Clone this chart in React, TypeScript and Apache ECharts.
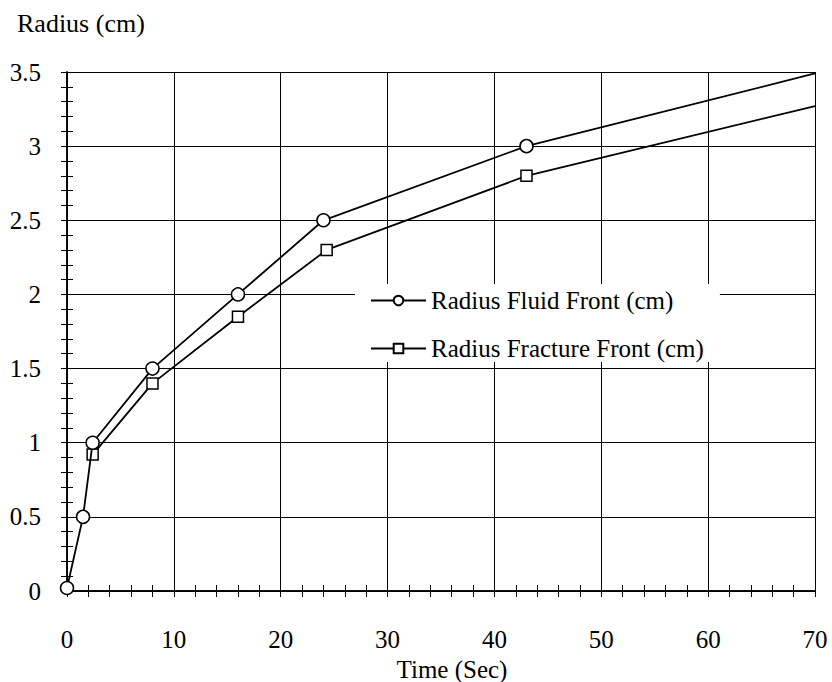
import React, { useEffect, useRef } from "react";
import * as echarts from "echarts";

const FONT = "Liberation Serif";

const xTicks = [0, 10, 20, 30, 40, 50, 60, 70];
const yTicks = [0, 0.5, 1, 1.5, 2, 2.5, 3, 3.5];

const fluidName = "Radius Fluid Front (cm)";
const fluidTime = [0, 1.5, 2.4, 8, 16, 24, 43, 70];
const fluidRadius = [0.02, 0.5, 1.0, 1.5, 2.0, 2.5, 3.0, 3.49];

const fractureName = "Radius Fracture Front (cm)";
const fractureTime = [2.4, 8, 16, 24.3, 43, 70];
const fractureRadius = [0.92, 1.4, 1.85, 2.3, 2.8, 3.27];

function toData(xs: number[], ys: number[]) {
  return xs.map((x, i) => {
    const item: any = { value: [x, ys[i]] };
    if (i === xs.length - 1 && x >= xTicks[xTicks.length - 1]) item.symbol = "none";
    return item;
  });
}

export default function App() {
  const ref = useRef<HTMLDivElement>(null);
  useEffect(() => {
    if (!ref.current) return;
    const chart = echarts.init(ref.current, null, { renderer: "svg" });
    const xMin = xTicks[0];
    const xMax = xTicks[xTicks.length - 1];
    const yMin = yTicks[0];
    const yMax = yTicks[yTicks.length - 1];
    const axisCommon = {
      axisLine: { show: true, lineStyle: { color: "#000", width: 1.5 } },
      axisTick: { show: true, inside: true, length: 6, lineStyle: { color: "#000", width: 1 } },
      minorTick: { show: true, splitNumber: 5, length: 6, lineStyle: { color: "#000", width: 1 } },
    };
    const txt = { fontFamily: FONT, fontSize: 25, fontWeight: "normal" as const, color: "#000" };
    chart.setOption({
      animation: false,
      backgroundColor: "#fff",
      textStyle: { fontFamily: FONT, fontSize: 25, color: "#000" },
      title: {
        text: "Radius (cm)",
        left: 12,
        top: 5,
        textStyle: { ...txt, fontSize: 26 },
      },
      grid: { left: 67, right: 17, top: 72, bottom: 91, containLabel: false, outerBoundsMode: "none" },
      legend: {
        orient: "vertical",
        left: 355,
        top: 284,
        backgroundColor: "#fff",
        padding: [4, 16, 1, 15],
        itemWidth: 55,
        itemHeight: 12,
        itemGap: 23,
        textStyle: txt,
        data: [fluidName, fractureName],
      },
      xAxis: [
        {
          type: "value",
          position: "bottom",
          min: xMin,
          max: xMax,
          interval: 10,
          ...axisCommon,
          axisLabel: { ...txt, margin: 36 },
          splitLine: { show: true, lineStyle: { color: "#000", width: 1 } },
          name: "Time (Sec)",
          nameLocation: "middle",
          nameGap: 51,
          nameTextStyle: { ...txt, padding: [0, 0, 0, 22] },
        },
        {
          type: "value",
          position: "top",
          min: xMin,
          max: xMax,
          interval: 10,
          ...axisCommon,
          axisLabel: { show: false },
          splitLine: { show: false },
        },
      ],
      yAxis: [
        {
          type: "value",
          position: "left",
          min: yMin,
          max: yMax,
          interval: 0.5,
          ...axisCommon,
          axisLabel: { ...txt, margin: 26, padding: [10, 0, 0, 0] },
          splitLine: { show: true, lineStyle: { color: "#000", width: 1 } },
        },
        {
          type: "value",
          position: "right",
          min: yMin,
          max: yMax,
          interval: 0.5,
          ...axisCommon,
          axisLabel: { show: false },
          splitLine: { show: false },
        },
      ],
      series: [
        {
          name: fluidName,
          type: "line",
          xAxisIndex: 0,
          yAxisIndex: 0,
          data: toData(fluidTime, fluidRadius),
          symbol: "circle",
          symbolSize: 13,
          showAllSymbol: true,
          lineStyle: { color: "#000", width: 1.8 },
          itemStyle: { color: "#fff", borderColor: "#000", borderWidth: 1.5 },
          z: 3,
        },
        {
          name: fractureName,
          type: "line",
          xAxisIndex: 0,
          yAxisIndex: 0,
          data: toData(fractureTime, fractureRadius),
          symbol: "rect",
          symbolSize: 11,
          showAllSymbol: true,
          lineStyle: { color: "#000", width: 1.8 },
          itemStyle: { color: "#fff", borderColor: "#000", borderWidth: 1.5 },
          z: 2,
        },
      ],
    });
    return () => chart.dispose();
  }, []);
  return (
    <div
      ref={ref}
      style={{ position: "absolute", left: 0, top: 0, width: 832, height: 682 }}
    />
  );
}
